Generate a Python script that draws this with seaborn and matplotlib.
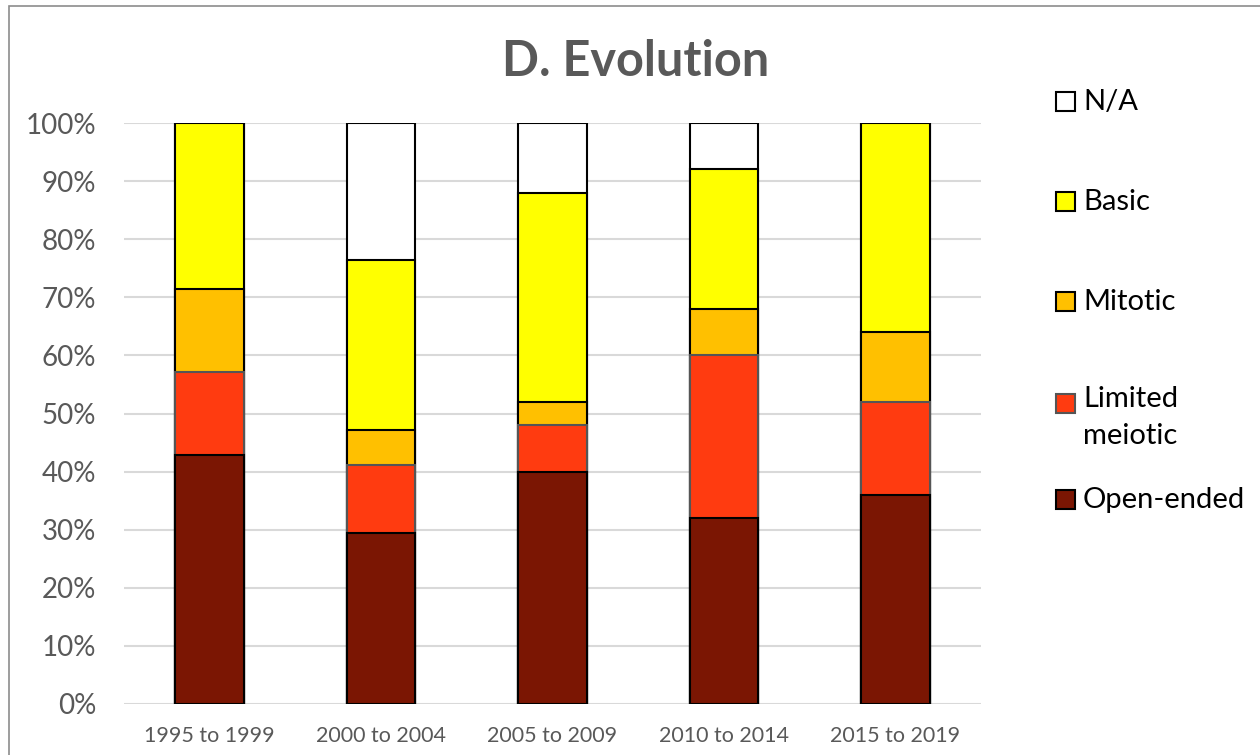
import numpy as np
import seaborn as sns
import matplotlib.pyplot as plt
from matplotlib.patches import Rectangle
from matplotlib.ticker import PercentFormatter

# data (percent of each period)
periods = ['1995 to 1999', '2000 to 2004', '2005 to 2009', '2010 to 2014', '2015 to 2019']
open_ended = [42.9, 29.4, 40.0, 32.0, 36.0]
limited = [14.3, 11.8, 8.0, 28.0, 16.0]
mitotic = [14.3, 5.9, 4.0, 8.0, 12.0]
basic = [28.5, 29.4, 36.0, 24.0, 36.0]
na = [0.0, 23.5, 12.0, 8.0, 0.0]

labels = ['Open-ended', 'Limited\nmeiotic', 'Mitotic', 'Basic', 'N/A']
colors = ['#7b1603', '#ff3b10', '#ffc000', '#ffff00', '#ffffff']
edges = ['black', '#555555', 'black', 'black', 'black']

sns.set_theme(style='white')
plt.rcParams['font.family'] = ['Lato', 'DejaVu Sans']

W, H = 1260, 755
fig = plt.figure(figsize=(W / 100, H / 100), dpi=100)
ax = fig.add_axes([124 / W, 1 - 704 / H, 857 / W, 581 / H])

# stacked bars: draw cumulative totals from the top down
layers = np.array([open_ended, limited, mitotic, basic, na]) / 100
cum = np.cumsum(layers, axis=0)
for i in range(len(labels) - 1, -1, -1):
    sns.barplot(x=periods, y=cum[i], color=colors[i], edgecolor=edges[i],
                linewidth=1.5, width=0.4, saturation=1, ax=ax, zorder=3)

ax.set_ylim(0, 1)
ax.set_yticks(np.arange(0, 1.01, 0.1))
ax.yaxis.set_major_formatter(PercentFormatter(1.0, decimals=0))
ax.grid(axis='y', color='#d9d9d9', linewidth=1.5, zorder=0)
ax.set_axisbelow(True)
sns.despine(ax=ax, left=True, bottom=True)
ax.tick_params(axis='y', labelsize=20, labelcolor='#595959', length=0, pad=20)
ax.tick_params(axis='x', labelsize=15.5, labelcolor='#595959', length=0, pad=16)
ax.set_xlabel('')
ax.set_ylabel('')

fig.text(636 / W, 1 - 61 / H, 'D. Evolution', ha='center', va='center',
         fontsize=35, fontweight='bold', color='#595959')

# legend (Excel-style, entries spread down the right side)
leg_y = [500, 404, 302, 202, 102]   # pixel row of each entry, bottom to top
for i in range(len(labels)):
    y = leg_y[i]
    fig.add_artist(Rectangle(((1056) / W, 1 - (y + 9) / H), 19 / W, 19 / H,
                             transform=fig.transFigure, facecolor=colors[i],
                             edgecolor=edges[i], linewidth=1.5))
    if '\n' in labels[i]:
        fig.text(1083 / W, 1 - (y - 18) / H, labels[i], ha='left', va='top',
                 fontsize=21, color='black', linespacing=1.5)
    else:
        fig.text(1083 / W, 1 - y / H, labels[i], ha='left', va='center',
                 fontsize=21, color='black')

# chart area border
fig.add_artist(Rectangle((9 / W, -0.1), 1.2, 1.1 - 6 / H, transform=fig.transFigure,
                         fill=False, edgecolor='#8c8c8c', linewidth=1.2))

plt.savefig('out.png', dpi=100)
plt.close()
